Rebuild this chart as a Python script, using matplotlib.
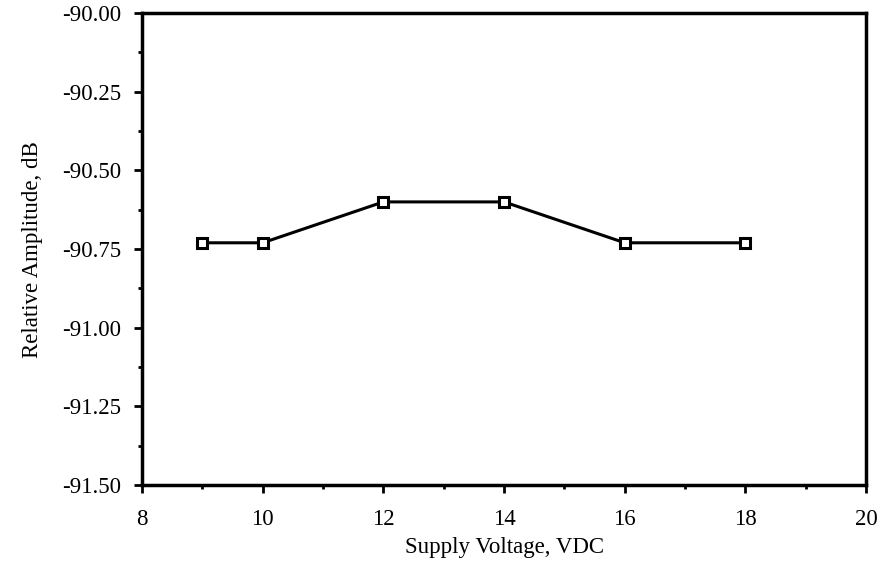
import matplotlib
matplotlib.use("Agg")
import matplotlib.pyplot as plt
from matplotlib.ticker import MultipleLocator, FormatStrFormatter

voltage = [9, 10, 12, 14, 16, 18]
amplitude = [-90.73, -90.73, -90.60, -90.60, -90.73, -90.73]
x_label = "Supply Voltage, VDC"
y_label = "Relative Amplitude, dB"

plt.rcParams['font.family'] = ['Liberation Serif', 'DejaVu Serif']

fig = plt.figure(figsize=(8.82, 5.73), dpi=100)
ax = fig.add_axes([0.161, 0.1536, 0.821, 0.8234])

ax.plot(voltage, amplitude, color='black', linewidth=2.2, marker='s',
        markersize=7, markerfacecolor='white', markeredgecolor='black',
        markeredgewidth=2.2, zorder=3)

ax.set_xlim(8, 20)
ax.set_ylim(-91.5, -90.0)
ax.xaxis.set_major_locator(MultipleLocator(2))
ax.xaxis.set_minor_locator(MultipleLocator(1))
ax.yaxis.set_major_locator(MultipleLocator(0.25))
ax.yaxis.set_minor_locator(MultipleLocator(0.125))
ax.yaxis.set_major_formatter(FormatStrFormatter('%.2f'))

for s in ax.spines.values():
    s.set_linewidth(2.5)

ax.tick_params(which='major', direction='out', length=6, width=2, labelsize=16.5)
ax.tick_params(axis='x', which='major', pad=11)
ax.tick_params(axis='y', which='major', pad=9)
ax.tick_params(which='minor', direction='out', length=3, width=2)

ax.set_xlabel(x_label, fontsize=16.5, labelpad=5)
ax.set_ylabel(y_label, fontsize=16.5, labelpad=14)

fig.savefig("out.png", dpi=100)
